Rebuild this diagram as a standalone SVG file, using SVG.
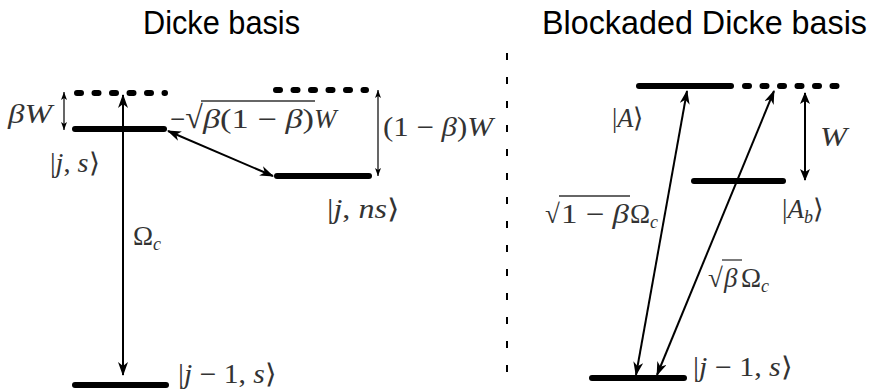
<svg xmlns="http://www.w3.org/2000/svg" width="878" height="392" viewBox="0 0 878 392">
<defs>
<marker id="big" viewBox="0 0 14 10" refX="13" refY="5" markerWidth="14" markerHeight="10" markerUnits="userSpaceOnUse" orient="auto-start-reverse">
<path d="M0,0 L14,5 L0,10 L4,5 z" fill="#000"/>
</marker>
<marker id="mid" viewBox="0 0 12 10" refX="11" refY="5" markerWidth="12" markerHeight="10" markerUnits="userSpaceOnUse" orient="auto-start-reverse">
<path d="M0,0 L12,5 L0,10 L3,5 z" fill="#000"/>
</marker>
<marker id="sm" viewBox="0 0 8 6" refX="8" refY="3" markerWidth="8" markerHeight="6" markerUnits="userSpaceOnUse" orient="auto-start-reverse">
<path d="M0,0 L8,3 L0,6 L2,3 z" fill="#000"/>
</marker>
</defs>
<style>
.title{font-family:"Liberation Sans",Arial,sans-serif;font-size:33px;fill:#000}
.m{font-family:"Liberation Serif","Times New Roman",serif;font-size:27px;fill:#333}
.i{font-style:italic}
.sub{font-style:italic;font-size:18px}
.lvl{stroke:#000;stroke-width:6;stroke-linecap:round;fill:none}
.dot{stroke:#000;stroke-width:6;stroke-linecap:round;stroke-dasharray:4 13.5;fill:none}
.arr{stroke:#000;stroke-width:2;fill:none}
.thin{stroke:#000;stroke-width:1.2;fill:none}
.bar{stroke:#333;stroke-width:1.3}
</style>
<text class="title" x="143" y="34" textLength="157" lengthAdjust="spacingAndGlyphs">Dicke basis</text>
<text class="title" x="542" y="34" textLength="325" lengthAdjust="spacingAndGlyphs">Blockaded Dicke basis</text>
<line x1="507" y1="53" x2="507" y2="380" stroke="#000" stroke-width="2" stroke-dasharray="7 17"/>

<g id="level-js">
<line class="lvl" x1="75" y1="129" x2="164" y2="129"/>
<text class="m" x="50" y="172" textLength="50" lengthAdjust="spacingAndGlyphs">|<tspan class="i">j</tspan>, <tspan class="i">s</tspan>⟩</text>
</g>
<g id="level-js-virtual">
<line class="dot" x1="77" y1="93" x2="165" y2="93"/>
<text class="m i" x="8" y="123" textLength="44" lengthAdjust="spacingAndGlyphs">βW</text>
</g>
<g id="level-jns-virtual">
<line class="dot" x1="276" y1="90" x2="366" y2="90"/>
</g>
<g id="level-jns">
<line class="lvl" x1="277" y1="176" x2="369" y2="176"/>
<text class="m" x="327" y="218" textLength="73" lengthAdjust="spacingAndGlyphs">|<tspan class="i">j</tspan>, <tspan class="i">ns</tspan>⟩</text>
</g>
<g id="level-j1s-left">
<line class="lvl" x1="75" y1="385" x2="166" y2="385"/>
<text class="m" x="178" y="383" textLength="99" lengthAdjust="spacingAndGlyphs">|<tspan class="i">j</tspan> − 1, <tspan class="i">s</tspan>⟩</text>
</g>
<g id="level-A">
<line class="lvl" x1="639" y1="86" x2="731" y2="86"/>
<text class="m" x="612" y="127" textLength="32" lengthAdjust="spacingAndGlyphs">|<tspan class="i">A</tspan>⟩</text>
</g>
<g id="level-A-virtual">
<line class="dot" x1="745" y1="86" x2="837" y2="86"/>
</g>
<g id="level-Ab">
<line class="lvl" x1="694" y1="181" x2="783" y2="181"/>
<text class="m" x="782" y="218">|<tspan class="i">A</tspan><tspan class="sub" dy="5">b</tspan><tspan dy="-5">⟩</tspan></text>
</g>
<g id="level-j1s-right">
<line class="lvl" x1="592" y1="378" x2="684" y2="378"/>
<text class="m" x="693" y="376" textLength="100" lengthAdjust="spacingAndGlyphs">|<tspan class="i">j</tspan> − 1, <tspan class="i">s</tspan>⟩</text>
</g>

<g id="connectors">
<line class="arr" x1="123" y1="95" x2="123" y2="375" marker-start="url(#big)" marker-end="url(#big)"/>
<line class="arr" x1="168" y1="131" x2="273" y2="176" marker-start="url(#big)" marker-end="url(#big)"/>
<line class="thin" x1="64" y1="92" x2="64" y2="130" marker-start="url(#sm)" marker-end="url(#sm)"/>
<line class="thin" x1="378" y1="90" x2="378" y2="176" marker-start="url(#sm)" marker-end="url(#sm)"/>
<line class="arr" x1="805" y1="93" x2="805" y2="180" marker-start="url(#mid)" marker-end="url(#mid)"/>
<line class="arr" x1="636" y1="375" x2="687" y2="91" marker-start="url(#big)" marker-end="url(#big)"/>
<line class="arr" x1="657" y1="375" x2="774" y2="91" marker-start="url(#big)" marker-end="url(#big)"/>
</g>

<g id="labels">
<text class="m" x="133" y="245">Ω<tspan class="sub" dy="5">c</tspan></text>
<text class="m" x="170" y="128">−<tspan font-size="32">√</tspan></text>
<text class="m" x="203" y="128" textLength="111" lengthAdjust="spacingAndGlyphs"><tspan class="i">β</tspan>(1 − <tspan class="i">β</tspan>)</text>
<text class="m i" x="314" y="128">W</text>
<line class="bar" x1="201" y1="101" x2="315" y2="101"/>
<text class="m" x="383" y="136" textLength="110" lengthAdjust="spacingAndGlyphs">(1 − <tspan class="i">β</tspan>)<tspan class="i">W</tspan></text>
<text class="m i" x="820" y="146" textLength="27" lengthAdjust="spacingAndGlyphs">W</text>
<text class="m" x="545" y="223" font-size="32">√</text>
<text class="m" x="561" y="223" textLength="68" lengthAdjust="spacingAndGlyphs">1 − <tspan class="i">β</tspan></text>
<text class="m" x="630" y="223">Ω<tspan class="sub" dy="5">c</tspan></text>
<line class="bar" x1="559" y1="196" x2="630" y2="196"/>
<text class="m" x="708" y="287" font-size="32">√</text>
<text class="m i" x="724" y="287">β</text>
<text class="m" x="741" y="287">Ω<tspan class="sub" dy="5">c</tspan></text>
<line class="bar" x1="722" y1="260" x2="742" y2="260"/>
</g>
</svg>
